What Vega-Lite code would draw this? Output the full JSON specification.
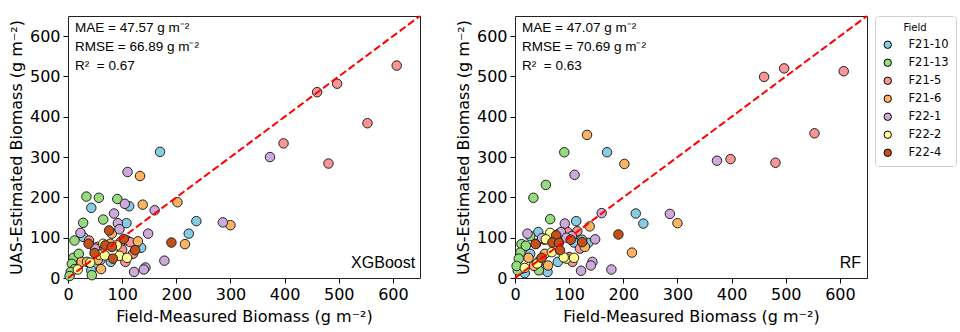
{
  "$schema": "https://vega.github.io/schema/vega-lite/v6.json",
  "padding": {"left": 7, "top": 14, "right": 2, "bottom": 2},
  "spacing": 32,
  "datasets": {
    "obs": [
      {"field": "F21-10", "measured": 170, "xgb": 313, "rf": 312},
      {"field": "F21-10", "measured": 237, "xgb": 141, "rf": 135},
      {"field": "F21-10", "measured": 223, "xgb": 110, "rf": 160},
      {"field": "F21-10", "measured": 113, "xgb": 178, "rf": 141},
      {"field": "F21-10", "measured": 43, "xgb": 174, "rf": 114},
      {"field": "F21-10", "measured": 108, "xgb": 136, "rf": 102},
      {"field": "F21-10", "measured": 135, "xgb": 75, "rf": 87},
      {"field": "F21-10", "measured": 109, "xgb": 93, "rf": 88},
      {"field": "F21-10", "measured": 124, "xgb": 83, "rf": 95},
      {"field": "F21-10", "measured": 28, "xgb": 102, "rf": 60},
      {"field": "F21-10", "measured": 47, "xgb": 34, "rf": 21},
      {"field": "F21-10", "measured": 43, "xgb": 19, "rf": 40},
      {"field": "F21-10", "measured": 79, "xgb": 40, "rf": 40},
      {"field": "F21-10", "measured": 60, "xgb": 45, "rf": 15},
      {"field": "F21-10", "measured": 18, "xgb": 30, "rf": 12},
      {"field": "F21-13", "measured": 91, "xgb": 196, "rf": 312},
      {"field": "F21-13", "measured": 57, "xgb": 199, "rf": 231},
      {"field": "F21-13", "measured": 34, "xgb": 202, "rf": 199},
      {"field": "F21-13", "measured": 65, "xgb": 145, "rf": 146},
      {"field": "F21-13", "measured": 28, "xgb": 137, "rf": 104},
      {"field": "F21-13", "measured": 12, "xgb": 93, "rf": 84},
      {"field": "F21-13", "measured": 10, "xgb": 50, "rf": 63},
      {"field": "F21-13", "measured": 7, "xgb": 35, "rf": 48},
      {"field": "F21-13", "measured": 12, "xgb": 22, "rf": 23},
      {"field": "F21-13", "measured": 44, "xgb": 7, "rf": 19},
      {"field": "F21-13", "measured": 20, "xgb": 60, "rf": 80},
      {"field": "F21-13", "measured": 5, "xgb": 15, "rf": 19},
      {"field": "F21-13", "measured": 3, "xgb": 5, "rf": 30},
      {"field": "F21-5", "measured": 607, "xgb": 527, "rf": 513},
      {"field": "F21-5", "measured": 497, "xgb": 482, "rf": 520},
      {"field": "F21-5", "measured": 460, "xgb": 461, "rf": 499},
      {"field": "F21-5", "measured": 553, "xgb": 384, "rf": 359},
      {"field": "F21-5", "measured": 481, "xgb": 284, "rf": 286},
      {"field": "F21-5", "measured": 398, "xgb": 334, "rf": 295},
      {"field": "F21-5", "measured": 39, "xgb": 93, "rf": 85},
      {"field": "F21-5", "measured": 97, "xgb": 89, "rf": 114},
      {"field": "F21-5", "measured": 115, "xgb": 89, "rf": 116},
      {"field": "F21-5", "measured": 106, "xgb": 40, "rf": 40},
      {"field": "F21-5", "measured": 54, "xgb": 77, "rf": 95},
      {"field": "F21-5", "measured": 100, "xgb": 70, "rf": 52},
      {"field": "F21-5", "measured": 120, "xgb": 60, "rf": 73},
      {"field": "F21-6", "measured": 300, "xgb": 131, "rf": 136},
      {"field": "F21-6", "measured": 216, "xgb": 84, "rf": 63},
      {"field": "F21-6", "measured": 202, "xgb": 188, "rf": 283},
      {"field": "F21-6", "measured": 138, "xgb": 182, "rf": 128},
      {"field": "F21-6", "measured": 133, "xgb": 253, "rf": 355},
      {"field": "F21-6", "measured": 129, "xgb": 91, "rf": 77},
      {"field": "F21-6", "measured": 81, "xgb": 110, "rf": 110},
      {"field": "F21-6", "measured": 78, "xgb": 85, "rf": 95},
      {"field": "F21-6", "measured": 25, "xgb": 40, "rf": 50},
      {"field": "F21-6", "measured": 35, "xgb": 40, "rf": 30},
      {"field": "F21-6", "measured": 61, "xgb": 22, "rf": 31},
      {"field": "F21-6", "measured": 55, "xgb": 45, "rf": 60},
      {"field": "F22-1", "measured": 373, "xgb": 300, "rf": 291},
      {"field": "F22-1", "measured": 286, "xgb": 138, "rf": 159},
      {"field": "F22-1", "measured": 178, "xgb": 43, "rf": 21},
      {"field": "F22-1", "measured": 122, "xgb": 15, "rf": 18},
      {"field": "F22-1", "measured": 143, "xgb": 26, "rf": 40},
      {"field": "F22-1", "measured": 140, "xgb": 21, "rf": 31},
      {"field": "F22-1", "measured": 160, "xgb": 168, "rf": 161},
      {"field": "F22-1", "measured": 110, "xgb": 263, "rf": 256},
      {"field": "F22-1", "measured": 105, "xgb": 184, "rf": 104},
      {"field": "F22-1", "measured": 85, "xgb": 160, "rf": 114},
      {"field": "F22-1", "measured": 92, "xgb": 136, "rf": 135},
      {"field": "F22-1", "measured": 148, "xgb": 110, "rf": 96},
      {"field": "F22-1", "measured": 95, "xgb": 121, "rf": 100},
      {"field": "F22-1", "measured": 23, "xgb": 112, "rf": 110},
      {"field": "F22-1", "measured": 50, "xgb": 73, "rf": 99},
      {"field": "F22-2", "measured": 65, "xgb": 85, "rf": 112},
      {"field": "F22-2", "measured": 57, "xgb": 58, "rf": 96},
      {"field": "F22-2", "measured": 68, "xgb": 56, "rf": 64},
      {"field": "F22-2", "measured": 95, "xgb": 55, "rf": 48},
      {"field": "F22-2", "measured": 109, "xgb": 50, "rf": 50},
      {"field": "F22-2", "measured": 90, "xgb": 81, "rf": 51},
      {"field": "F22-2", "measured": 41, "xgb": 38, "rf": 36},
      {"field": "F22-2", "measured": 18, "xgb": 21, "rf": 25},
      {"field": "F22-4", "measured": 191, "xgb": 88, "rf": 108},
      {"field": "F22-4", "measured": 124, "xgb": 69, "rf": 89},
      {"field": "F22-4", "measured": 76, "xgb": 118, "rf": 106},
      {"field": "F22-4", "measured": 38, "xgb": 85, "rf": 84},
      {"field": "F22-4", "measured": 69, "xgb": 81, "rf": 88},
      {"field": "F22-4", "measured": 81, "xgb": 77, "rf": 87},
      {"field": "F22-4", "measured": 49, "xgb": 62, "rf": 50},
      {"field": "F22-4", "measured": 83, "xgb": 48, "rf": 69},
      {"field": "F22-4", "measured": 103, "xgb": 97, "rf": 95}
    ]
  },
  "config": {
    "font": "DejaVu Sans",
    "view": {"stroke": "#222222", "strokeWidth": 1},
    "axis": {
      "grid": false, "domain": false,
      "labelFont": "DejaVu Sans", "labelFontSize": 16, "labelColor": "black",
      "labelFlush": false, "labelOverlap": false, "labelPadding": 3,
      "titleFont": "DejaVu Sans", "titleFontSize": 16, "titleFontWeight": "normal", "titleColor": "black",
      "tickColor": "black", "tickSize": 5, "tickWidth": 1
    },
    "legend": {
      "titleFont": "DejaVu Sans", "titleFontSize": 10, "titleFontWeight": "normal", "titleColor": "black",
      "titleAnchor": "middle", "titlePadding": 6,
      "labelFont": "DejaVu Sans", "labelFontSize": 11.5, "labelColor": "black",
      "strokeColor": "#d0d0d0", "padding": 7, "cornerRadius": 3, "fillColor": "white",
      "symbolSize": 55, "symbolStrokeColor": "black", "symbolStrokeWidth": 1, "symbolType": "circle",
      "rowPadding": 5, "labelOffset": 15, "offset": 6
    }
  },
  "hconcat": [
    {
      "width": 352, "height": 262,
      "layer": [
        {
          "data": {"name": "obs"},
          "mark": {"type": "circle", "size": 90, "opacity": 1, "stroke": "#222222", "strokeWidth": 1},
          "encoding": {
            "x": {"field": "measured", "type": "quantitative", "scale": {"domain": [0, 650], "nice": false, "zero": false},
                  "axis": {"values": [0, 100, 200, 300, 400, 500, 600], "title": "Field-Measured Biomass (g m⁻²)", "titlePadding": 6}},
            "y": {"field": "xgb", "type": "quantitative", "scale": {"domain": [0, 650], "nice": false, "zero": false},
                  "axis": {"values": [0, 100, 200, 300, 400, 500, 600], "title": "UAS-Estimated Biomass (g m⁻²)", "titlePadding": 5}},
            "color": {"field": "field", "type": "nominal", "title": "Field",
                      "scale": {"domain": ["F21-10", "F21-13", "F21-5", "F21-6", "F22-1", "F22-2", "F22-4"],
                                "range": ["#87CCE4", "#96DB7E", "#F99595", "#FDB462", "#CDA9DC", "#FFFF8F", "#C4501A"]}}
          }
        },
        {
          "data": {"values": [{}]},
          "mark": {"type": "rule", "color": "#FF0000", "strokeWidth": 2, "strokeDash": [7.4, 3.2]},
          "encoding": {
            "x": {"datum": 0, "type": "quantitative"}, "y": {"datum": 0, "type": "quantitative"},
            "x2": {"datum": 650}, "y2": {"datum": 650}
          }
        },
        {
          "data": {"values": [{"t": "MAE = 47.57 g m⁻²\nRMSE = 66.89 g m⁻²\nR² \u00a0= 0.67"}]},
          "mark": {"type": "text", "align": "left", "baseline": "top", "lineBreak": "\n", "lineHeight": 19, "font": "Liberation Sans", "fontSize": 13.5, "color": "black"},
          "encoding": {"x": {"datum": 13, "type": "quantitative"}, "y": {"datum": 637, "type": "quantitative"}, "text": {"field": "t"}}
        },
        {
          "data": {"values": [{"t": "XGBoost"}]},
          "mark": {"type": "text", "align": "right", "baseline": "middle", "font": "Liberation Sans", "fontSize": 16, "color": "black"},
          "encoding": {"x": {"datum": 641, "type": "quantitative"}, "y": {"datum": 37, "type": "quantitative"}, "text": {"field": "t"}}
        }
      ]
    },
    {
      "width": 352, "height": 262,
      "layer": [
        {
          "data": {"name": "obs"},
          "mark": {"type": "circle", "size": 90, "opacity": 1, "stroke": "#222222", "strokeWidth": 1},
          "encoding": {
            "x": {"field": "measured", "type": "quantitative", "scale": {"domain": [0, 650], "nice": false, "zero": false},
                  "axis": {"values": [0, 100, 200, 300, 400, 500, 600], "title": "Field-Measured Biomass (g m⁻²)", "titlePadding": 6}},
            "y": {"field": "rf", "type": "quantitative", "scale": {"domain": [0, 650], "nice": false, "zero": false},
                  "axis": {"values": [0, 100, 200, 300, 400, 500, 600], "title": "UAS-Estimated Biomass (g m⁻²)", "titlePadding": 5}},
            "color": {"field": "field", "type": "nominal", "title": "Field",
                      "scale": {"domain": ["F21-10", "F21-13", "F21-5", "F21-6", "F22-1", "F22-2", "F22-4"],
                                "range": ["#87CCE4", "#96DB7E", "#F99595", "#FDB462", "#CDA9DC", "#FFFF8F", "#C4501A"]}}
          }
        },
        {
          "data": {"values": [{}]},
          "mark": {"type": "rule", "color": "#FF0000", "strokeWidth": 2, "strokeDash": [7.4, 3.2]},
          "encoding": {
            "x": {"datum": 0, "type": "quantitative"}, "y": {"datum": 0, "type": "quantitative"},
            "x2": {"datum": 650}, "y2": {"datum": 650}
          }
        },
        {
          "data": {"values": [{"t": "MAE = 47.07 g m⁻²\nRMSE = 70.69 g m⁻²\nR² \u00a0= 0.63"}]},
          "mark": {"type": "text", "align": "left", "baseline": "top", "lineBreak": "\n", "lineHeight": 19, "font": "Liberation Sans", "fontSize": 13.5, "color": "black"},
          "encoding": {"x": {"datum": 13, "type": "quantitative"}, "y": {"datum": 637, "type": "quantitative"}, "text": {"field": "t"}}
        },
        {
          "data": {"values": [{"t": "RF"}]},
          "mark": {"type": "text", "align": "right", "baseline": "middle", "font": "Liberation Sans", "fontSize": 16, "color": "black"},
          "encoding": {"x": {"datum": 639, "type": "quantitative"}, "y": {"datum": 37, "type": "quantitative"}, "text": {"field": "t"}}
        }
      ]
    }
  ]
}
